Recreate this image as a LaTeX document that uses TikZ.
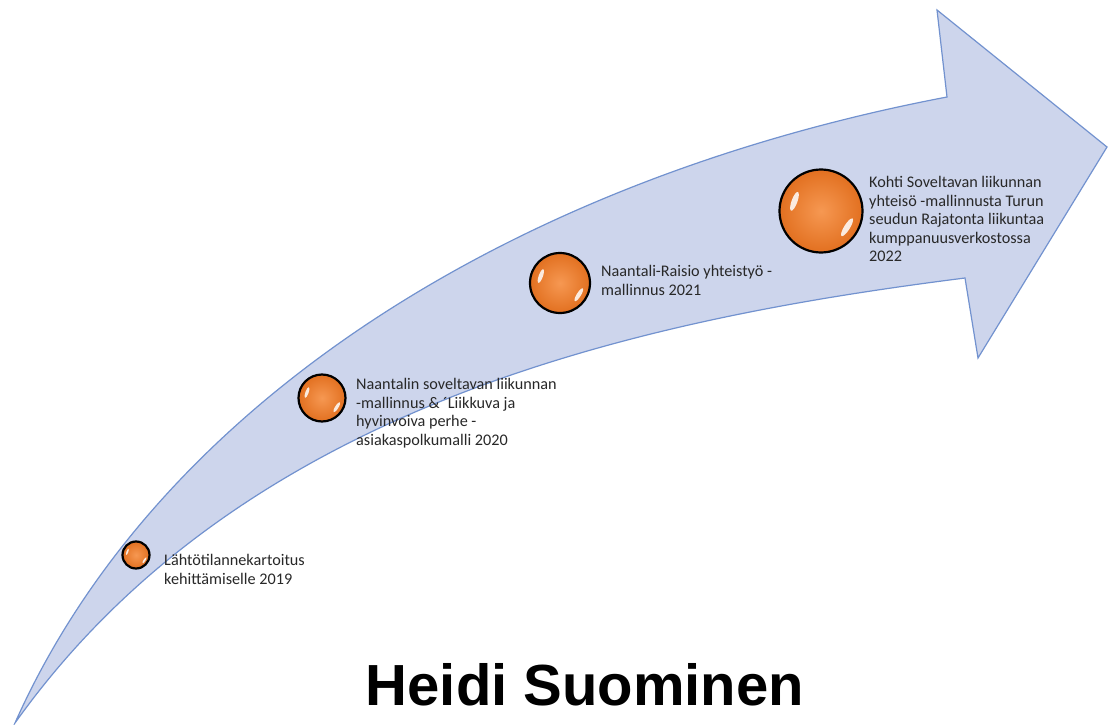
\documentclass[tikz,border=0pt]{standalone}
\usepackage{fontspec}
\setmainfont{Carlito}
\newfontfamily\arialfont{Liberation Sans}
\definecolor{arrowfill}{RGB}{205,213,236}
\definecolor{arrowline}{RGB}{114,146,207}
\definecolor{orin}{RGB}{246,152,82}
\definecolor{orout}{RGB}{226,112,32}
\definecolor{txtgray}{RGB}{40,40,40}
\begin{document}
\begin{tikzpicture}[x=1pt,y=-1pt,
  bandstyle/.style={fill=arrowfill,draw=arrowline,line width=1.2pt,line join=miter},
  bubble/.style={circle,draw=black,line width=2.2pt,inner sep=0pt,shading=radial,inner color=orin,outer color=orout},
  glint/.style={fill=white,fill opacity=0.85,draw=none},
  lbl/.style={font=\fontsize{16.2}{18.5}\selectfont,text=txtgray,align=left,inner sep=0pt,anchor=north west},
  namestyle/.style={font=\arialfont\bfseries\fontsize{58}{60}\selectfont,inner sep=0pt,anchor=base}]
\useasboundingbox (0,0) rectangle (1109,725);
\fill[white] (0,0) rectangle (1109,725);
% arrow band
\draw[bandstyle] (15,723) .. controls (155,408) and (506,181) .. (947,97)
  -- (937,10) -- (1107,147) -- (978,358) -- (965,278)
  .. controls (650,318) and (245,400) .. (15,723) -- cycle;
% bubbles
\foreach \n/\x/\y/\r in {b1/136/555/13.5, b2/322/398/23.5, b3/560/283/30, b4/821/211/41.5}{
  \node[bubble,minimum size=2*\r pt] (\n) at (\x,\y) {};
  \begin{scope}[shift={(\n.center)}]
    \fill[glint] (160:{0.68*\r pt}) ellipse [x radius={0.07*\r pt}, y radius={0.24*\r pt}, rotate=160];
    \fill[glint] (-32:{0.74*\r pt}) ellipse [x radius={0.07*\r pt}, y radius={0.25*\r pt}, rotate=-32];
  \end{scope}
}
% labels
\node[lbl] (t1) at (164,554.5) {Lähtötilannekartoitus\\kehittämiselle 2019};
\node[lbl] (t2) at (356,378.5) {Naantalin soveltavan liikunnan\\-mallinnus \& ´Liikkuva ja\\hyvinvoiva perhe -\\asiakaspolkumalli 2020};
\node[lbl] (t3) at (601,265.5) {Naantali-Raisio yhteistyö -\\mallinnus 2021};
\node[lbl] (t4) at (869,176.5) {Kohti Soveltavan liikunnan\\yhteisö -mallinnusta Turun\\seudun Rajatonta liikuntaa\\kumppanuusverkostossa\\2022};
\node[namestyle] (name) at (585,705) {Heidi Suominen};
\end{tikzpicture}
\end{document}
